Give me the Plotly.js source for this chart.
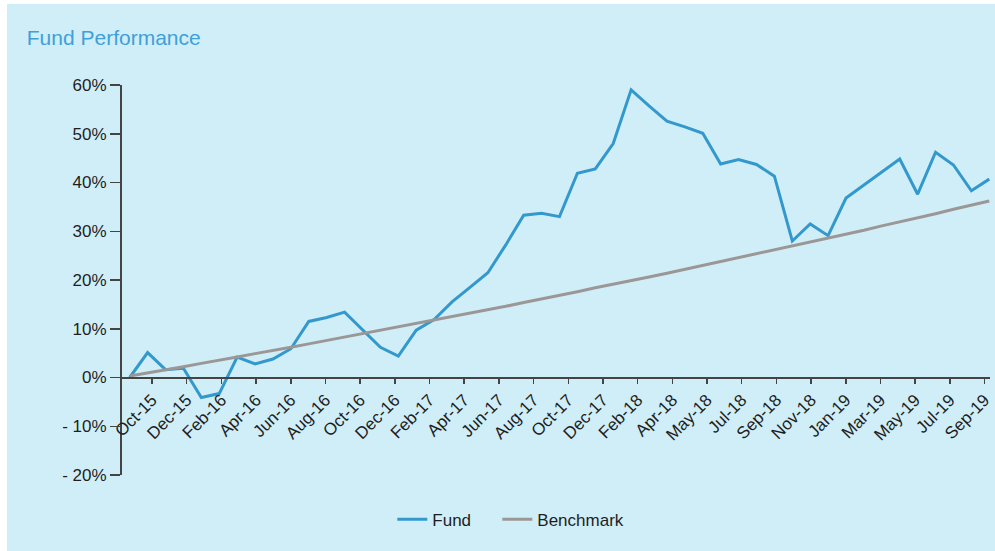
<!DOCTYPE html>
<html>
<head>
<meta charset="utf-8">
<script src="https://cdn.plot.ly/plotly-3.0.1.min.js"></script>
<style>
  html, body { margin: 0; padding: 0; background: #ffffff; width: 995px; height: 551px; overflow: hidden; }
  #chart { position: absolute; left: 7px; top: 4px; width: 988px; height: 547px; }
</style>
</head>
<body>
<div id="chart"></div>
<script>
// Monthly observations (point index 0 = Sep-15 ... 48 = Sep-19), values in %
const fundValues = [
  0.0, 5.1, 1.6, 1.9, -4.1, -3.3, 4.2, 2.8, 3.8, 5.9,
  11.5, 12.3, 13.4, 9.8, 6.2, 4.4, 9.7, 11.9, 15.5, 18.5,
  21.5, 27.2, 33.3, 33.7, 33.0, 41.9, 42.8, 48.0, 59.0, 55.7,
  52.6, 51.4, 50.1, 43.8, 44.7, 43.7, 41.3, 28.0, 31.5, 29.1,
  36.8, 39.5, 42.2, 44.8, 37.6, 46.2, 43.6, 38.3, 40.7
];
const benchmarkValues = [
  0.3, 0.9, 1.6, 2.2, 2.9, 3.5, 4.2, 4.9, 5.5, 6.2,
  6.9, 7.6, 8.3, 8.9, 9.6, 10.3, 11.0, 11.8, 12.5, 13.2,
  13.9, 14.6, 15.4, 16.1, 16.9, 17.6, 18.4, 19.1, 19.9, 20.6,
  21.4, 22.2, 23.0, 23.8, 24.5, 25.3, 26.1, 27.0, 27.8, 28.6,
  29.4, 30.2, 31.1, 31.9, 32.7, 33.6, 34.5, 35.3, 36.2
];
const xTickLabels = [
  "Oct-15","Dec-15","Feb-16","Apr-16","Jun-16","Aug-16","Oct-16","Dec-16",
  "Feb-17","Apr-17","Jun-17","Aug-17","Oct-17","Dec-17","Feb-18","Apr-18",
  "May-18","Jul-18","Sep-18","Nov-18","Jan-19","Mar-19","May-19","Jul-19","Sep-19"
];
const yTickValues = [-20, -10, 0, 10, 20, 30, 40, 50, 60];
const yTickLabels = ["- 20%", "- 10%", "0%", "10%", "20%", "30%", "40%", "50%", "60%"];

// axis layout settings
const xTickStart = 1.246;
const xTickStep = 1.937;

const xIdx = fundValues.map((_, i) => i);
const xTickVals = xTickLabels.map((_, k) => xTickStart + k * xTickStep);

const font = "'Liberation Sans', Arial, sans-serif";

const traces = [
  {
    x: xIdx, y: fundValues, name: "Fund", type: "scatter", mode: "lines",
    line: { color: "#3399cc", width: 3 },
    legendwidth: 60
  },
  {
    x: xIdx, y: benchmarkValues, name: "Benchmark", type: "scatter", mode: "lines",
    line: { color: "#9b9797", width: 3 }
  }
];

const layout = {
  width: 988, height: 547,
  paper_bgcolor: "#d0eef8",
  plot_bgcolor: "rgba(0,0,0,0)",
  margin: { l: 115.3, r: 5, t: 81, b: 76 },
  font: { family: font, size: 17, color: "#1e1e1e" },
  title: {
    text: "Fund Performance",
    font: { family: font, size: 21, color: "#3fa0d8" },
    xref: "container", yref: "container",
    x: 0.02, xanchor: "left", y: 0.938, yanchor: "middle"
  },
  showlegend: true,
  legend: {
    orientation: "h",
    xref: "container", yref: "container",
    x: 0.390, xanchor: "left", y: 0.057, yanchor: "middle",
    font: { family: font, size: 17, color: "#1e1e1e" },
    bgcolor: "rgba(0,0,0,0)"
  },
  xaxis: {
    range: [-0.43, 48.04],
    anchor: "free", position: 0.25,
    showgrid: false, zeroline: false,
    showline: true, linecolor: "#444", linewidth: 2,
    ticks: "outside", ticklen: 5, tickwidth: 1.5, tickcolor: "#444",
    tickmode: "array", tickvals: xTickVals, ticktext: xTickLabels,
    tickangle: -45,
    tickfont: { family: font, size: 17, color: "#1e1e1e" }
  },
  yaxis: {
    range: [-20, 60], domain: [0, 1],
    showgrid: false, zeroline: false,
    showline: true, linecolor: "#444", linewidth: 2,
    ticks: "outside", ticklen: 10, tickwidth: 1.5, tickcolor: "#444",
    tickmode: "array", tickvals: yTickValues, ticktext: yTickLabels,
    tickfont: { family: font, size: 17, color: "#1e1e1e" }
  }
};

Plotly.newPlot("chart", traces, layout, { displayModeBar: false, staticPlot: true });
</script>
</body>
</html>
